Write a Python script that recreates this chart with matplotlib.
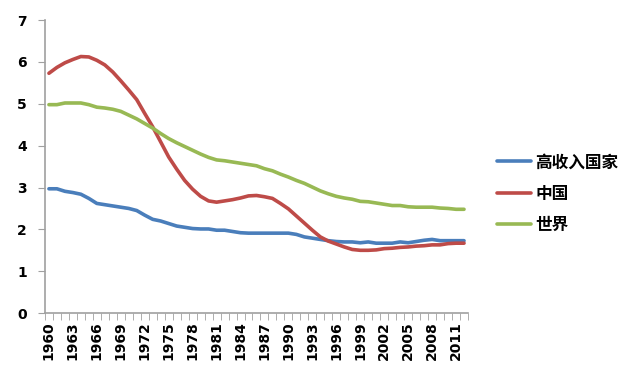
import numpy as np
import matplotlib
matplotlib.use('Agg')
import matplotlib.pyplot as plt
from matplotlib.ticker import FixedLocator

plt.rcParams['font.family'] = ['Noto Sans CJK SC', 'DejaVu Sans']

# years 1960..2012
years = list(range(1960, 2013))

# fertility rates
high_income = [2.97, 2.97, 2.91, 2.88, 2.84, 2.74, 2.62, 2.59, 2.56, 2.53,
               2.50, 2.45, 2.34, 2.24, 2.20, 2.14, 2.08, 2.05, 2.02, 2.01,
               2.01, 1.98, 1.98, 1.95, 1.92, 1.91, 1.91, 1.91, 1.91, 1.91,
               1.91, 1.88, 1.82, 1.79, 1.76, 1.73, 1.71, 1.70, 1.70, 1.68,
               1.70, 1.67, 1.67, 1.67, 1.70, 1.68, 1.71, 1.74, 1.76, 1.73,
               1.73, 1.73, 1.73]
china = [5.73, 5.87, 5.98, 6.06, 6.13, 6.12, 6.04, 5.93, 5.76, 5.55,
         5.33, 5.10, 4.77, 4.45, 4.09, 3.73, 3.44, 3.17, 2.96, 2.79,
         2.68, 2.65, 2.68, 2.71, 2.75, 2.80, 2.81, 2.78, 2.74, 2.62,
         2.49, 2.32, 2.15, 1.98, 1.82, 1.72, 1.65, 1.58, 1.52, 1.50,
         1.50, 1.51, 1.54, 1.55, 1.57, 1.58, 1.60, 1.61, 1.63, 1.63,
         1.66, 1.67, 1.67]
world = [4.98, 4.98, 5.02, 5.02, 5.02, 4.98, 4.92, 4.90, 4.87, 4.82,
         4.73, 4.64, 4.53, 4.42, 4.29, 4.17, 4.07, 3.98, 3.89, 3.80,
         3.72, 3.66, 3.64, 3.61, 3.58, 3.55, 3.52, 3.45, 3.40, 3.32,
         3.25, 3.17, 3.10, 3.01, 2.92, 2.85, 2.79, 2.75, 2.72, 2.67,
         2.66, 2.63, 2.60, 2.57, 2.57, 2.54, 2.53, 2.53, 2.53, 2.51,
         2.50, 2.48, 2.48]

labels = ['高收入国家', '中国', '世界']
colors = ['#4A7EBB', '#BE4B48', '#98B954']

fig = plt.figure(figsize=(6.42, 3.87), dpi=100)
ax = fig.add_axes([0.070, 0.191, 0.659, 0.757])

x = np.arange(len(years))
for ys, lab, c in zip([high_income, china, world], labels, colors):
    ax.plot(x, ys, color=c, lw=2.6, label=lab, solid_capstyle='round')

ax.set_xlim(-0.5, len(years) - 0.5)
ax.set_ylim(0, 7)
ax.set_yticks(range(0, 8))

# category style x axis: ticks between categories, labels every 3 years
ax.xaxis.set_minor_locator(FixedLocator(np.arange(len(years) + 1) - 0.5))
ax.set_xticks(x[::3])
ax.set_xticklabels([str(y) for y in years[::3]], rotation=90)
ax.tick_params(axis='x', which='major', length=0, pad=6)
ax.tick_params(axis='x', which='minor', length=5, color='#A0A0A0', direction='out')
ax.tick_params(axis='y', length=5, color='#A0A0A0', direction='out', pad=8)

for lbl in ax.get_xticklabels() + ax.get_yticklabels():
    lbl.set_family(['DejaVu Sans'])
    lbl.set_fontweight('bold')
    lbl.set_fontsize(10)

for s in ['top', 'right']:
    ax.spines[s].set_visible(False)
for s in ['left', 'bottom']:
    ax.spines[s].set_color('#A0A0A0')
    ax.spines[s].set_linewidth(1.2)

fig.legend(loc='center left', bbox_to_anchor=(0.761, 0.50), frameon=False,
           prop={'size': 12, 'weight': 'bold'}, handlelength=2.05,
           handletextpad=0.25, labelspacing=0.8, borderpad=0)

fig.savefig('out.png', dpi=100)
